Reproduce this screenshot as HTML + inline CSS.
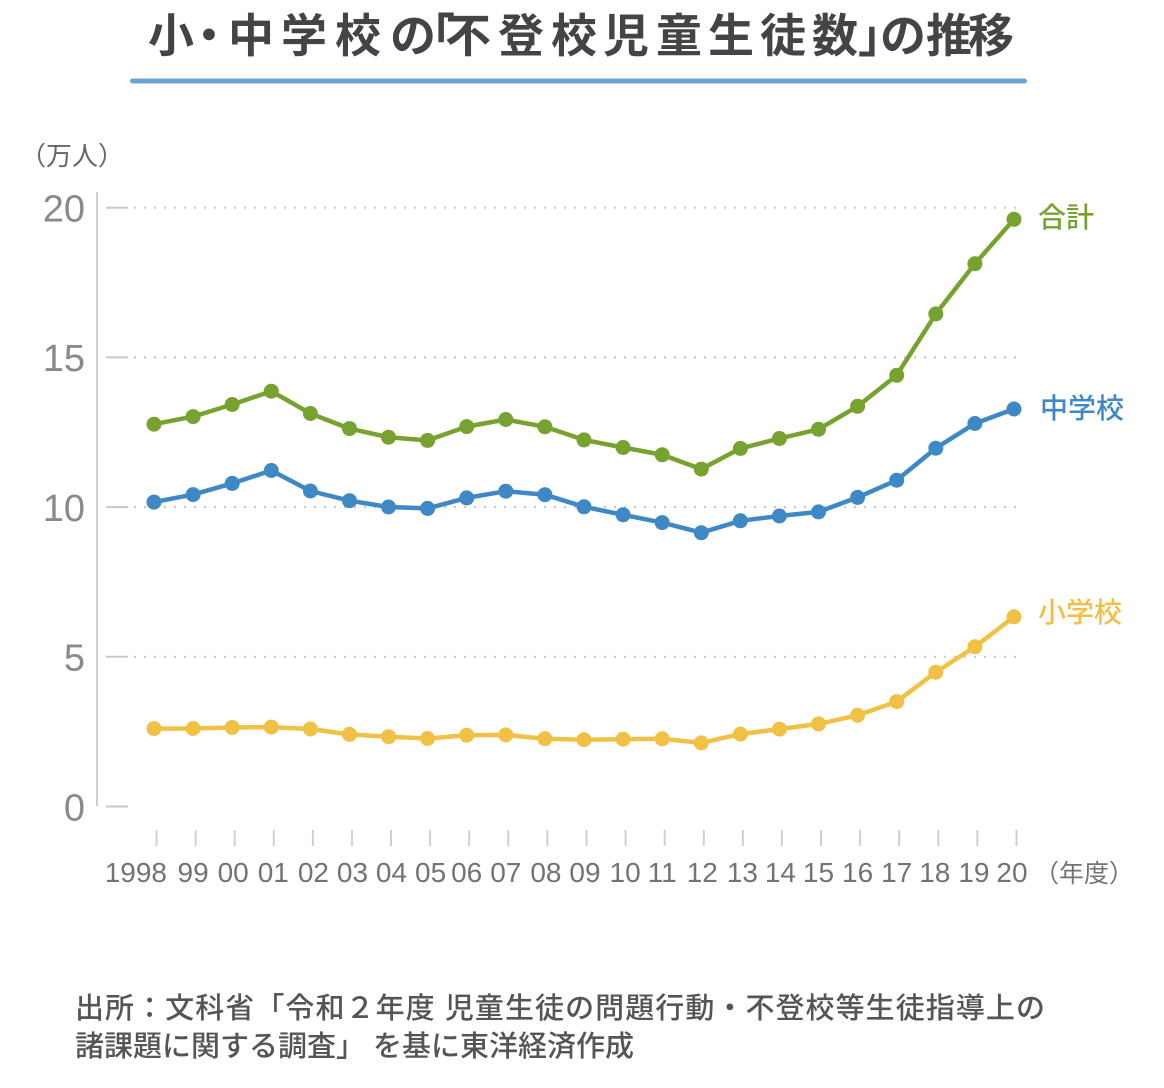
<!DOCTYPE html>
<html>
<head>
<meta charset="utf-8">
<style>
html,body{margin:0;padding:0;background:#fff;}
svg{display:block;}
.cjk{font-family:"Liberation Sans","Noto Sans CJK JP",sans-serif;}
.num{font-family:"Liberation Sans","Noto Sans CJK JP",sans-serif;}
</style>
</head>
<body>
<svg width="1164" height="1088" viewBox="0 0 1164 1088" xmlns="http://www.w3.org/2000/svg">
<rect width="1164" height="1088" fill="#fff"/>

<!-- Title -->
<text class="cjk" font-size="46" font-weight="700" fill="#444" y="52"
 x="148 186 228 281 335 390 409 445 498 551 603 656 708 760 812 858 880 926 968">小・中学校の「不登校児童生徒数」の推移</text>
<rect x="130" y="78.5" width="897" height="5" rx="2.5" fill="#6aa3da"/>

<!-- unit -->
<text class="cjk" font-size="26" fill="#666" x="20" y="165">（万人）</text>

<!-- y axis -->
<line x1="97" y1="192" x2="97" y2="806" stroke="#d0d0d0" stroke-width="2"/>

<!-- gridlines -->
<g stroke="#c8c8c8" stroke-width="2">
  <line x1="106" y1="207.7" x2="128" y2="207.7"/>
  <line x1="106" y1="357.4" x2="128" y2="357.4"/>
  <line x1="106" y1="507.1" x2="128" y2="507.1"/>
  <line x1="106" y1="656.8" x2="128" y2="656.8"/>
  <line x1="106" y1="806.5" x2="128" y2="806.5"/>
</g>
<g stroke="#c8c8c8" stroke-width="2.2" stroke-dasharray="2 8">
  <line x1="134" y1="207.7" x2="1020" y2="207.7"/>
  <line x1="134" y1="357.4" x2="1020" y2="357.4"/>
  <line x1="134" y1="507.1" x2="1020" y2="507.1"/>
  <line x1="134" y1="656.8" x2="1020" y2="656.8"/>
</g>

<!-- y labels -->
<g class="num" font-size="38" fill="#8a8a8a" text-anchor="end">
  <text x="85" y="221.5">20</text>
  <text x="85" y="371.2">15</text>
  <text x="85" y="520.9">10</text>
  <text x="85" y="670.6">5</text>
  <text x="85" y="820.3">0</text>
</g>

<!-- x ticks -->
<g stroke="#d0d0d0" stroke-width="2">
  <line x1="156.5" y1="830" x2="156.5" y2="846"/>
  <line x1="195.6" y1="830" x2="195.6" y2="846"/>
  <line x1="234.7" y1="830" x2="234.7" y2="846"/>
  <line x1="273.8" y1="830" x2="273.8" y2="846"/>
  <line x1="312.9" y1="830" x2="312.9" y2="846"/>
  <line x1="352.0" y1="830" x2="352.0" y2="846"/>
  <line x1="391.0" y1="830" x2="391.0" y2="846"/>
  <line x1="430.1" y1="830" x2="430.1" y2="846"/>
  <line x1="469.2" y1="830" x2="469.2" y2="846"/>
  <line x1="508.3" y1="830" x2="508.3" y2="846"/>
  <line x1="547.4" y1="830" x2="547.4" y2="846"/>
  <line x1="586.5" y1="830" x2="586.5" y2="846"/>
  <line x1="625.6" y1="830" x2="625.6" y2="846"/>
  <line x1="664.7" y1="830" x2="664.7" y2="846"/>
  <line x1="703.8" y1="830" x2="703.8" y2="846"/>
  <line x1="742.9" y1="830" x2="742.9" y2="846"/>
  <line x1="781.9" y1="830" x2="781.9" y2="846"/>
  <line x1="821.0" y1="830" x2="821.0" y2="846"/>
  <line x1="860.1" y1="830" x2="860.1" y2="846"/>
  <line x1="899.2" y1="830" x2="899.2" y2="846"/>
  <line x1="938.3" y1="830" x2="938.3" y2="846"/>
  <line x1="977.4" y1="830" x2="977.4" y2="846"/>
  <line x1="1016.5" y1="830" x2="1016.5" y2="846"/>
</g>

<!-- x labels -->
<g class="num" font-size="28" fill="#737373" text-anchor="middle">
  <text x="167" y="882" text-anchor="end">1998</text>
  <text x="193.1" y="882">99</text>
  <text x="233.2" y="882">00</text>
  <text x="273.3" y="882">01</text>
  <text x="313.4" y="882">02</text>
  <text x="352.5" y="882">03</text>
  <text x="391.5" y="882">04</text>
  <text x="430.6" y="882">05</text>
  <text x="466.7" y="882">06</text>
  <text x="505.8" y="882">07</text>
  <text x="545.9" y="882">08</text>
  <text x="585.0" y="882">09</text>
  <text x="625.1" y="882">10</text>
  <text x="662.2" y="882">11</text>
  <text x="702.3" y="882">12</text>
  <text x="742.4" y="882">13</text>
  <text x="780.4" y="882">14</text>
  <text x="818.5" y="882">15</text>
  <text x="857.6" y="882">16</text>
  <text x="896.7" y="882">17</text>
  <text x="934.8" y="882">18</text>
  <text x="973.9" y="882">19</text>
  <text x="1012.0" y="882">20</text>
</g>
<text class="cjk" font-size="25" fill="#737373" x="1034" y="882">（年度）</text>

<!-- Total (green) -->
<g fill="#78a22f">
<polyline fill="none" stroke="#78a22f" stroke-width="4.5" stroke-linejoin="round"
 points="154,424.2 193.1,416.6 232.2,404.5 271.3,391.2 310.4,413.5 349.5,428.6 388.5,437.2 427.6,440.4 466.7,426.6 505.8,419.5 544.9,426.8 584.0,439.9 623.1,447.5 662.2,454.8 701.3,469.1 740.4,448.4 779.4,438.5 818.5,429.3 857.6,406.3 896.7,375.3 935.8,313.9 974.9,263.8 1014.0,219.3"/>
<circle cx="154" cy="424.2" r="7.5"/><circle cx="193.1" cy="416.6" r="7.5"/><circle cx="232.2" cy="404.5" r="7.5"/><circle cx="271.3" cy="391.2" r="7.5"/><circle cx="310.4" cy="413.5" r="7.5"/><circle cx="349.5" cy="428.6" r="7.5"/><circle cx="388.5" cy="437.2" r="7.5"/><circle cx="427.6" cy="440.4" r="7.5"/><circle cx="466.7" cy="426.6" r="7.5"/><circle cx="505.8" cy="419.5" r="7.5"/><circle cx="544.9" cy="426.8" r="7.5"/><circle cx="584.0" cy="439.9" r="7.5"/><circle cx="623.1" cy="447.5" r="7.5"/><circle cx="662.2" cy="454.8" r="7.5"/><circle cx="701.3" cy="469.1" r="7.5"/><circle cx="740.4" cy="448.4" r="7.5"/><circle cx="779.4" cy="438.5" r="7.5"/><circle cx="818.5" cy="429.3" r="7.5"/><circle cx="857.6" cy="406.3" r="7.5"/><circle cx="896.7" cy="375.3" r="7.5"/><circle cx="935.8" cy="313.9" r="7.5"/><circle cx="974.9" cy="263.8" r="7.5"/><circle cx="1014.0" cy="219.3" r="7.5"/>
</g>

<!-- Junior high (blue) -->
<g fill="#3f88c6">
<polyline fill="none" stroke="#3f88c6" stroke-width="4.5" stroke-linejoin="round"
 points="154,502.1 193.1,494.6 232.2,483.4 271.3,470.5 310.4,491.0 349.5,500.7 388.5,507.0 427.6,508.4 466.7,497.9 505.8,491.2 544.9,494.7 584.0,506.8 623.1,514.8 662.2,522.6 701.3,532.7 740.4,520.8 779.4,516.0 818.5,511.9 857.6,497.4 896.7,480.2 935.8,448.2 974.9,423.5 1014.0,409.0"/>
<circle cx="154" cy="502.1" r="7.5"/><circle cx="193.1" cy="494.6" r="7.5"/><circle cx="232.2" cy="483.4" r="7.5"/><circle cx="271.3" cy="470.5" r="7.5"/><circle cx="310.4" cy="491.0" r="7.5"/><circle cx="349.5" cy="500.7" r="7.5"/><circle cx="388.5" cy="507.0" r="7.5"/><circle cx="427.6" cy="508.4" r="7.5"/><circle cx="466.7" cy="497.9" r="7.5"/><circle cx="505.8" cy="491.2" r="7.5"/><circle cx="544.9" cy="494.7" r="7.5"/><circle cx="584.0" cy="506.8" r="7.5"/><circle cx="623.1" cy="514.8" r="7.5"/><circle cx="662.2" cy="522.6" r="7.5"/><circle cx="701.3" cy="532.7" r="7.5"/><circle cx="740.4" cy="520.8" r="7.5"/><circle cx="779.4" cy="516.0" r="7.5"/><circle cx="818.5" cy="511.9" r="7.5"/><circle cx="857.6" cy="497.4" r="7.5"/><circle cx="896.7" cy="480.2" r="7.5"/><circle cx="935.8" cy="448.2" r="7.5"/><circle cx="974.9" cy="423.5" r="7.5"/><circle cx="1014.0" cy="409.0" r="7.5"/>
</g>

<!-- Elementary (yellow) -->
<g fill="#f0c145">
<polyline fill="none" stroke="#f0c145" stroke-width="4.5" stroke-linejoin="round"
 points="154,728.6 193.1,728.5 232.2,727.5 271.3,727.1 310.4,729.0 349.5,734.4 388.5,736.7 427.6,738.5 466.7,735.2 505.8,734.9 544.9,738.7 584.0,739.7 623.1,739.2 662.2,738.8 701.3,742.9 740.4,734.1 779.4,729.1 818.5,723.9 857.6,715.3 896.7,701.6 935.8,672.2 974.9,646.8 1014.0,616.8"/>
<circle cx="154" cy="728.6" r="7.5"/><circle cx="193.1" cy="728.5" r="7.5"/><circle cx="232.2" cy="727.5" r="7.5"/><circle cx="271.3" cy="727.1" r="7.5"/><circle cx="310.4" cy="729.0" r="7.5"/><circle cx="349.5" cy="734.4" r="7.5"/><circle cx="388.5" cy="736.7" r="7.5"/><circle cx="427.6" cy="738.5" r="7.5"/><circle cx="466.7" cy="735.2" r="7.5"/><circle cx="505.8" cy="734.9" r="7.5"/><circle cx="544.9" cy="738.7" r="7.5"/><circle cx="584.0" cy="739.7" r="7.5"/><circle cx="623.1" cy="739.2" r="7.5"/><circle cx="662.2" cy="738.8" r="7.5"/><circle cx="701.3" cy="742.9" r="7.5"/><circle cx="740.4" cy="734.1" r="7.5"/><circle cx="779.4" cy="729.1" r="7.5"/><circle cx="818.5" cy="723.9" r="7.5"/><circle cx="857.6" cy="715.3" r="7.5"/><circle cx="896.7" cy="701.6" r="7.5"/><circle cx="935.8" cy="672.2" r="7.5"/><circle cx="974.9" cy="646.8" r="7.5"/><circle cx="1014.0" cy="616.8" r="7.5"/>
</g>

<!-- series labels -->
<text class="cjk" font-size="28" font-weight="500" fill="#78a22f" x="1038" y="227">合計</text>
<text class="cjk" font-size="28" font-weight="500" fill="#3f88c6" x="1040" y="418">中学校</text>
<text class="cjk" font-size="28" font-weight="500" fill="#f0c145" x="1038" y="622">小学校</text>

<!-- source -->
<text class="cjk" font-size="29" font-weight="500" fill="#555" x="75" y="1018" textLength="970" lengthAdjust="spacing">出所：文科省「令和２年度 児童生徒の問題行動・不登校等生徒指導上の</text>
<text class="cjk" font-size="29" font-weight="500" fill="#555" x="75" y="1056">諸課題に関する調査」 を基に東洋経済作成</text>
</svg>
</body>
</html>
